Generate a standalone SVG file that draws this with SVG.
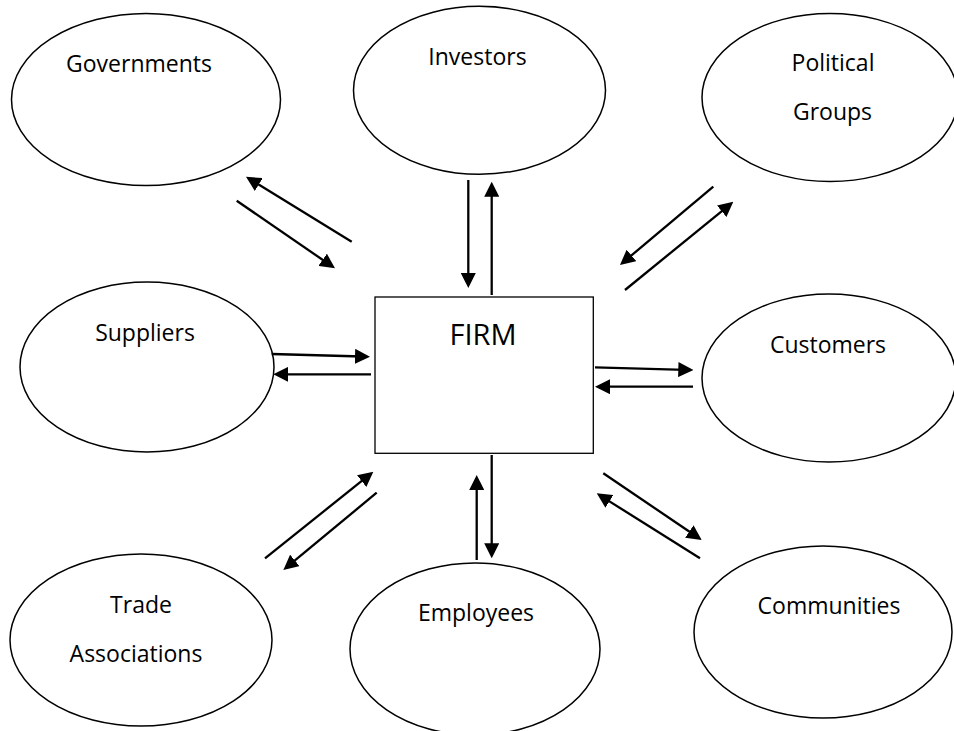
<svg xmlns="http://www.w3.org/2000/svg" width="954" height="731" viewBox="0 0 954 731">
<defs>
<style>
.node ellipse{fill:#fff;stroke:#000;stroke-width:1.5}
.firm rect{fill:#fff;stroke:#000;stroke-width:1.3}
text{font-family:"Open Sans","Liberation Sans",sans-serif;font-size:23px;fill:#000;text-anchor:middle}
.big{font-size:29px}
#connectors line{stroke:#000;stroke-width:2.3;marker-end:url(#ah)}
</style>
<marker id="ah" markerUnits="userSpaceOnUse" markerWidth="15" markerHeight="15" refX="7" refY="7.5" orient="auto">
<path d="M0,0 L15,7.5 L0,15 z" fill="#000"/>
</marker>
</defs>
<rect width="954" height="731" fill="#fff"/>
<g id="governments" class="node"><ellipse cx="146" cy="99.5" rx="134.5" ry="86"/><text x="139" y="72">Governments</text></g>
<g id="investors" class="node"><ellipse cx="479.5" cy="90.3" rx="126" ry="84"/><text x="477.5" y="65">Investors</text></g>
<g id="political-groups" class="node"><ellipse cx="830" cy="97.5" rx="128" ry="84"/><text x="833" y="71">Political</text><text x="832.5" y="120">Groups</text></g>
<g id="suppliers" class="node"><ellipse cx="147" cy="367" rx="127" ry="85"/><text x="145" y="341">Suppliers</text></g>
<g id="customers" class="node"><ellipse cx="829" cy="378" rx="127" ry="84"/><text x="828" y="353">Customers</text></g>
<g id="trade-associations" class="node"><ellipse cx="141" cy="640" rx="131" ry="86"/><text x="141" y="613">Trade</text><text x="136" y="662">Associations</text></g>
<g id="employees" class="node"><ellipse cx="475" cy="649" rx="125" ry="86"/><text x="476" y="621">Employees</text></g>
<g id="communities" class="node"><ellipse cx="823" cy="632" rx="129" ry="86"/><text x="829" y="614">Communities</text></g>
<g id="firm" class="firm"><rect x="375" y="297" width="218.3" height="156.3"/><text class="big" x="483" y="345">FIRM</text></g>
<g id="connectors">
<line x1="351.7" y1="241.7" x2="252.8" y2="180.9"/>
<line x1="236.7" y1="200.7" x2="328.4" y2="263.8"/>
<line x1="468.3" y1="180" x2="468.3" y2="280"/>
<line x1="491.7" y1="295" x2="491.7" y2="189.7"/>
<line x1="713.3" y1="186.7" x2="626.1" y2="259.9"/>
<line x1="625" y1="290" x2="727.1" y2="206.8"/>
<line x1="271.7" y1="354" x2="362" y2="356.5"/>
<line x1="371" y1="374.3" x2="281.3" y2="374.3"/>
<line x1="595" y1="367.3" x2="685.3" y2="369.8"/>
<line x1="693" y1="386.7" x2="603" y2="386.7"/>
<line x1="265" y1="558.3" x2="367.1" y2="476.7"/>
<line x1="376.7" y1="492.7" x2="289.5" y2="564.9"/>
<line x1="476.7" y1="560" x2="476.7" y2="483"/>
<line x1="491.7" y1="455" x2="491.7" y2="550.3"/>
<line x1="603.3" y1="473.3" x2="695.1" y2="535.5"/>
<line x1="700" y1="558.3" x2="603.5" y2="497.6"/>
</g>
</svg>
